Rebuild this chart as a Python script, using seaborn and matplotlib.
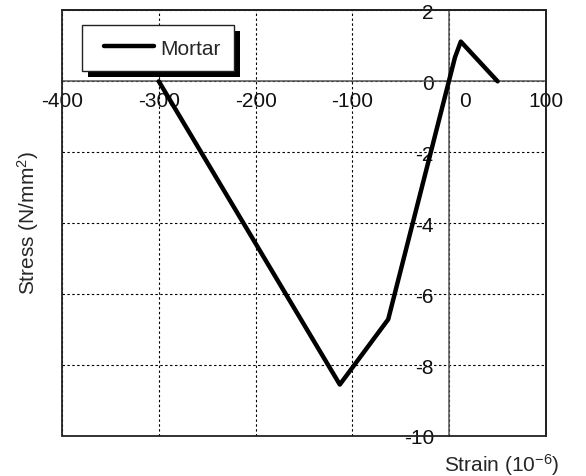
import matplotlib
matplotlib.use('Agg')
import matplotlib.pyplot as plt
import seaborn as sns
from matplotlib.patches import Rectangle
from matplotlib.transforms import ScaledTranslation, IdentityTransform
from matplotlib.legend_handler import HandlerLine2D
from matplotlib.lines import Line2D

# ---- data ----
strain = [-300, -113, -63, 6, 12, 50]
stress = [0, -8.55, -6.71, 0.68, 1.12, 0]
series_name = "Mortar"
x_ticks = [-400, -300, -200, -100, 0, 100]
x_tick_labels = ["-400", "-300", "-200", "-100", "0", "100"]
y_ticks = [2, 0, -2, -4, -6, -8, -10]
y_tick_labels = ["2", "0", "-2", "-4", "-6", "-8", "-10"]
x_label = "Strain (10$^{-6}$)"
y_label = "Stress (N/mm$^2$)"

sns.set_style('white')
plt.rcParams['font.family'] = ['Liberation Sans', 'DejaVu Sans']
plt.rcParams['mathtext.fontset'] = 'custom'
plt.rcParams['mathtext.rm'] = 'Liberation Sans'
plt.rcParams['mathtext.it'] = 'Liberation Sans:italic'
plt.rcParams['mathtext.default'] = 'regular'
plt.rcParams['axes.unicode_minus'] = False

W, H = 586, 477
fig = plt.figure(figsize=(W / 100, H / 100), dpi=100)
ax = fig.add_axes([62 / W, 1 - 437 / H, 484 / W, (437 - 11.4) / H])

sns.lineplot(x=strain, y=stress, sort=False, color='black', lw=3.2,
             label=series_name, ax=ax, zorder=3)

ax.set_xlim(-400, 100)
ax.set_ylim(-10, 2)
ax.set_xticks(x_ticks, x_tick_labels)
ax.set_yticks(y_ticks, y_tick_labels)
ax.tick_params(axis='both', length=0, labelsize=15, labelcolor='#111111')
ax.tick_params(axis='x', pad=7)
ax.tick_params(axis='y', pad=11)

# grid
ax.set_axisbelow(True)
ax.grid(True, linestyle=(0, (2.2, 2.2)), color='black', lw=0.8)

# zero axes
for s in ['left', 'bottom']:
    ax.spines[s].set_position(('data', 0))
    ax.spines[s].set_color('#555555')
    ax.spines[s].set_linewidth(1.1)
for s in ['top', 'right']:
    ax.spines[s].set_color('#222222')
    ax.spines[s].set_linewidth(1.3)
ax.add_patch(Rectangle((0, 0), 1, 1, transform=ax.transAxes, fill=False,
                       ec='#222222', lw=1.3, clip_on=False, zorder=4))

# shift the "0" x tick label right (as in reference)
lbl0 = ax.get_xticklabels()[4]
lbl0.set_transform(lbl0.get_transform() + ScaledTranslation(16 / 100, 0, fig.dpi_scale_trans))

ax.set_ylabel(y_label, fontsize=15)
ax.yaxis.set_label_coords(-0.043, 0.504)
ax.set_xlabel(x_label, fontsize=15)
ax.xaxis.set_label_coords(0.909, -0.035)

leg = ax.legend(loc='upper left', bbox_to_anchor=(0.041, 0.966), borderaxespad=0,
                frameon=True, fancybox=False, edgecolor='#222222', framealpha=1,
                fontsize=15, handlelength=2.8, handletextpad=0.3, borderpad=0.66,
                handler_map={Line2D: HandlerLine2D(xpad=0.42)})
leg.get_frame().set_linewidth(1.0)
leg.set_zorder(6)

fig.canvas.draw()
bb = leg.get_window_extent()
ax.add_artist(Rectangle((bb.x0 + 6, bb.y0 - 6), bb.width, bb.height,
                        transform=IdentityTransform(), fc='black', ec='none',
                        zorder=5.9, clip_on=False))

fig.savefig('out.png', dpi=100)
